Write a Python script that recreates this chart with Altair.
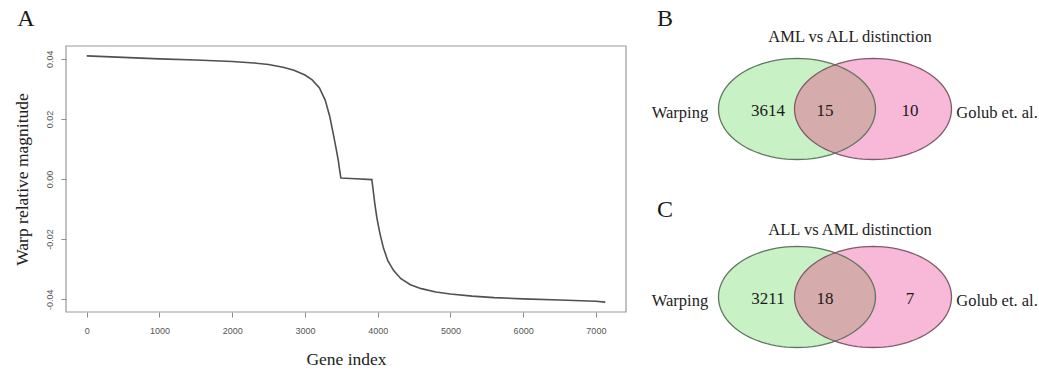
import altair as alt
import numpy as np
import pandas as pd

# ---------------- data ----------------
# Panel A: warp relative magnitude per gene
gene_index = [1, 500, 1000, 1500, 2000, 2300, 2500, 2700, 2850, 3000, 3100, 3200,
              3280, 3340, 3390, 3430, 3460, 3480, 3495, 3700, 3920, 3935, 3960,
              3990, 4030, 4080, 4140, 4220, 4320, 4450, 4600, 4800, 5000, 5300,
              5600, 6000, 6500, 7000, 7129]
warp_value = [0.0410, 0.0405, 0.0400, 0.0396, 0.0391, 0.0386, 0.0381, 0.0372,
              0.0362, 0.0346, 0.0330, 0.0303, 0.0262, 0.0210, 0.0150, 0.0100,
              0.0060, 0.0025, 0.0003, 0.0001, -0.0002, -0.0030, -0.0080, -0.0130,
              -0.0180, -0.0230, -0.0272, -0.0305, -0.0332, -0.0352, -0.0365,
              -0.0376, -0.0383, -0.0390, -0.0395, -0.0399, -0.0403, -0.0407,
              -0.0410]
x_ticks = [0, 1000, 2000, 3000, 4000, 5000, 6000, 7000]
y_ticks = [-0.04, -0.02, 0.0, 0.02, 0.04]

# Panels B and C: Venn counts
panel_letters = ["A", "B", "C"]
venn_titles = ["AML vs ALL distinction", "ALL vs AML distinction"]
set_names = ["Warping", "Golub et. al."]
only_warping = [3614, 3211]
in_both = [15, 18]
only_golub = [10, 7]

# ---------------- layout / style ----------------
W, H = 1039, 370
box_x = [66, 626]
box_y = [312, 46]
x_domain = [-284, 7414]
y_domain = [-0.04428, 0.04428]

panel_cy = [109, 297]          # vertical centre of each Venn
green_cx, pink_cx = 797, 873
lens_cx = (green_cx + pink_cx) / 2
semi_a, semi_b = 78.5, 50.5
name_x = [680, 997]
count_x = [768, 825, 910]
title_x = 850
title_y = [37, 230]
letter_xy = [(26, 19), (665, 19), (665, 210)]

serif = "Liberation Serif"
sans = "Liberation Sans"


def poly_path(points):
    return "M" + " L".join(f"{px:.2f},{py:.2f}" for px, py in points) + " Z"


t = np.linspace(0, 2 * np.pi, 97)[:-1]
ellipse_path = poly_path(zip(semi_a * np.cos(t), semi_b * np.sin(t)))
half_d = (pink_cx - green_cx) / 2
t0 = np.arccos(half_d / semi_a)
tt = np.linspace(-t0, t0, 40)
right_side = list(zip(-half_d + semi_a * np.cos(tt), semi_b * np.sin(tt)))
left_side = list(zip(half_d - semi_a * np.cos(tt[::-1]), semi_b * np.sin(tt[::-1])))
lens_path = poly_path(right_side + left_side)

# ---------------- panel A ----------------
xs = alt.Scale(domain=x_domain, range=box_x, nice=False, zero=False)
ys = alt.Scale(domain=y_domain, range=box_y, nice=False, zero=False)

x_axis = alt.Axis(
    values=x_ticks, format="d", offset=box_y[0] - H, domain=False, grid=False,
    tickSize=5, tickColor="#8a8a8a", tickWidth=1,
    labelFont=sans, labelFontSize=9, labelColor="#555555", labelPadding=9,
    labelFlush=False, labelOverlap=False,
    title="Gene index", titleFont=serif, titleFontSize=17.5, titleFontWeight="normal",
    titleColor="#222222", titleX=(box_x[0] + box_x[1]) / 2, titleY=359 - box_y[0],
    titleAlign="center", titleBaseline="middle",
)
y_axis = alt.Axis(
    values=y_ticks, offset=-box_x[0], domain=False, grid=False,
    tickSize=5, tickColor="#8a8a8a", tickWidth=1,
    labelExpr="replace(format(datum.value, '.2f'), '\u2212', '-')",
    labelFont=sans, labelFontSize=9, labelColor="#555555", labelPadding=7,
    labelAngle=270, labelAlign="center", labelBaseline="bottom",
    labelFlush=False, labelOverlap=False,
    title="Warp relative magnitude", titleFont=serif, titleFontSize=17.5,
    titleFontWeight="normal", titleColor="#222222",
    titleX=22 - box_x[0], titleY=(box_y[0] + box_y[1]) / 2, titleAngle=270,
    titleAlign="center", titleBaseline="middle",
)

line_df = pd.DataFrame({"gene": gene_index, "warp": warp_value})
frame_df = pd.DataFrame({"gene": [x_domain[0]], "gene2": [x_domain[1]],
                         "warp": [y_domain[0]], "warp2": [y_domain[1]]})

frame = alt.Chart(frame_df).mark_rect(fillOpacity=0, stroke="#9a9a9a", strokeWidth=1.2).encode(
    x=alt.X("gene:Q", scale=xs, axis=x_axis), x2="gene2:Q",
    y=alt.Y("warp:Q", scale=ys, axis=y_axis), y2="warp2:Q",
)
curve = alt.Chart(line_df).mark_line(color="#505050", strokeWidth=1.6).encode(
    x=alt.X("gene:Q", scale=xs, axis=x_axis),
    y=alt.Y("warp:Q", scale=ys, axis=y_axis),
)
panel_a = alt.layer(frame, curve)

# ---------------- panels B, C ----------------
ps_x = alt.Scale(domain=[0, W], range=[0, W], nice=False, zero=False)
ps_y = alt.Scale(domain=[0, H], range=[0, H], nice=False, zero=False)


def enc(ch):
    return ch.encode(
        x=alt.X("px:Q", scale=ps_x, axis=None),
        y=alt.Y("py:Q", scale=ps_y, axis=None),
    )


def centres(cx):
    return pd.DataFrame({"px": [cx] * len(panel_cy), "py": panel_cy})


green_fill = enc(alt.Chart(centres(green_cx)).mark_point(
    shape=ellipse_path, size=4, filled=True, fill="#c9f1c6", strokeWidth=0, opacity=1))
pink_fill = enc(alt.Chart(centres(pink_cx)).mark_point(
    shape=ellipse_path, size=4, filled=True, fill="#f8b8d7", strokeWidth=0, opacity=1))
lens_fill = enc(alt.Chart(centres(lens_cx)).mark_point(
    shape=lens_path, size=4, filled=True, fill="#d5abab", strokeWidth=0, opacity=1))
green_line = enc(alt.Chart(centres(green_cx)).mark_point(
    shape=ellipse_path, size=4, filled=False, stroke="#5f775f", strokeWidth=1.3, opacity=1))
pink_line = enc(alt.Chart(centres(pink_cx)).mark_point(
    shape=ellipse_path, size=4, filled=False, stroke="#7f5a68", strokeWidth=1.3, opacity=1))

letters_df = pd.DataFrame({"px": [p[0] for p in letter_xy], "py": [p[1] for p in letter_xy],
                           "label": panel_letters})
titles_df = pd.DataFrame({"px": [title_x] * 2, "py": title_y, "label": venn_titles})
names_rows = []
count_rows = []
for i, cy in enumerate(panel_cy):
    names_rows.append({"px": name_x[0], "py": cy + 4, "label": set_names[0]})
    names_rows.append({"px": name_x[1], "py": cy + 4, "label": set_names[1]})
    for cx, val in zip(count_x, [only_warping[i], in_both[i], only_golub[i]]):
        count_rows.append({"px": cx, "py": cy + 2, "label": str(val)})
names_df = pd.DataFrame(names_rows)
counts_df = pd.DataFrame(count_rows)

letters = enc(alt.Chart(letters_df).mark_text(
    font=serif, fontSize=24, color="#1a1a1a", align="center", baseline="middle")).encode(text="label:N")
titles = enc(alt.Chart(titles_df).mark_text(
    font=serif, fontSize=16.5, color="#222222", align="center", baseline="middle")).encode(text="label:N")
names = enc(alt.Chart(names_df).mark_text(
    font=serif, fontSize=16.5, color="#222222", align="center", baseline="middle")).encode(text="label:N")
counts = enc(alt.Chart(counts_df).mark_text(
    font=serif, fontSize=17, color="#1a1a1a", align="center", baseline="middle")).encode(text="label:N")

venn = alt.layer(green_fill, pink_fill, lens_fill, green_line, pink_line,
                 letters, titles, names, counts)

chart = alt.layer(panel_a, venn).resolve_scale(x="independent", y="independent").properties(
    width=W, height=H, padding=0, autosize=alt.AutoSizeParams(type="none"),
    background="white",
).configure_view(stroke=None)

chart.save("out.html", embed_options={"renderer": "svg", "actions": False})
